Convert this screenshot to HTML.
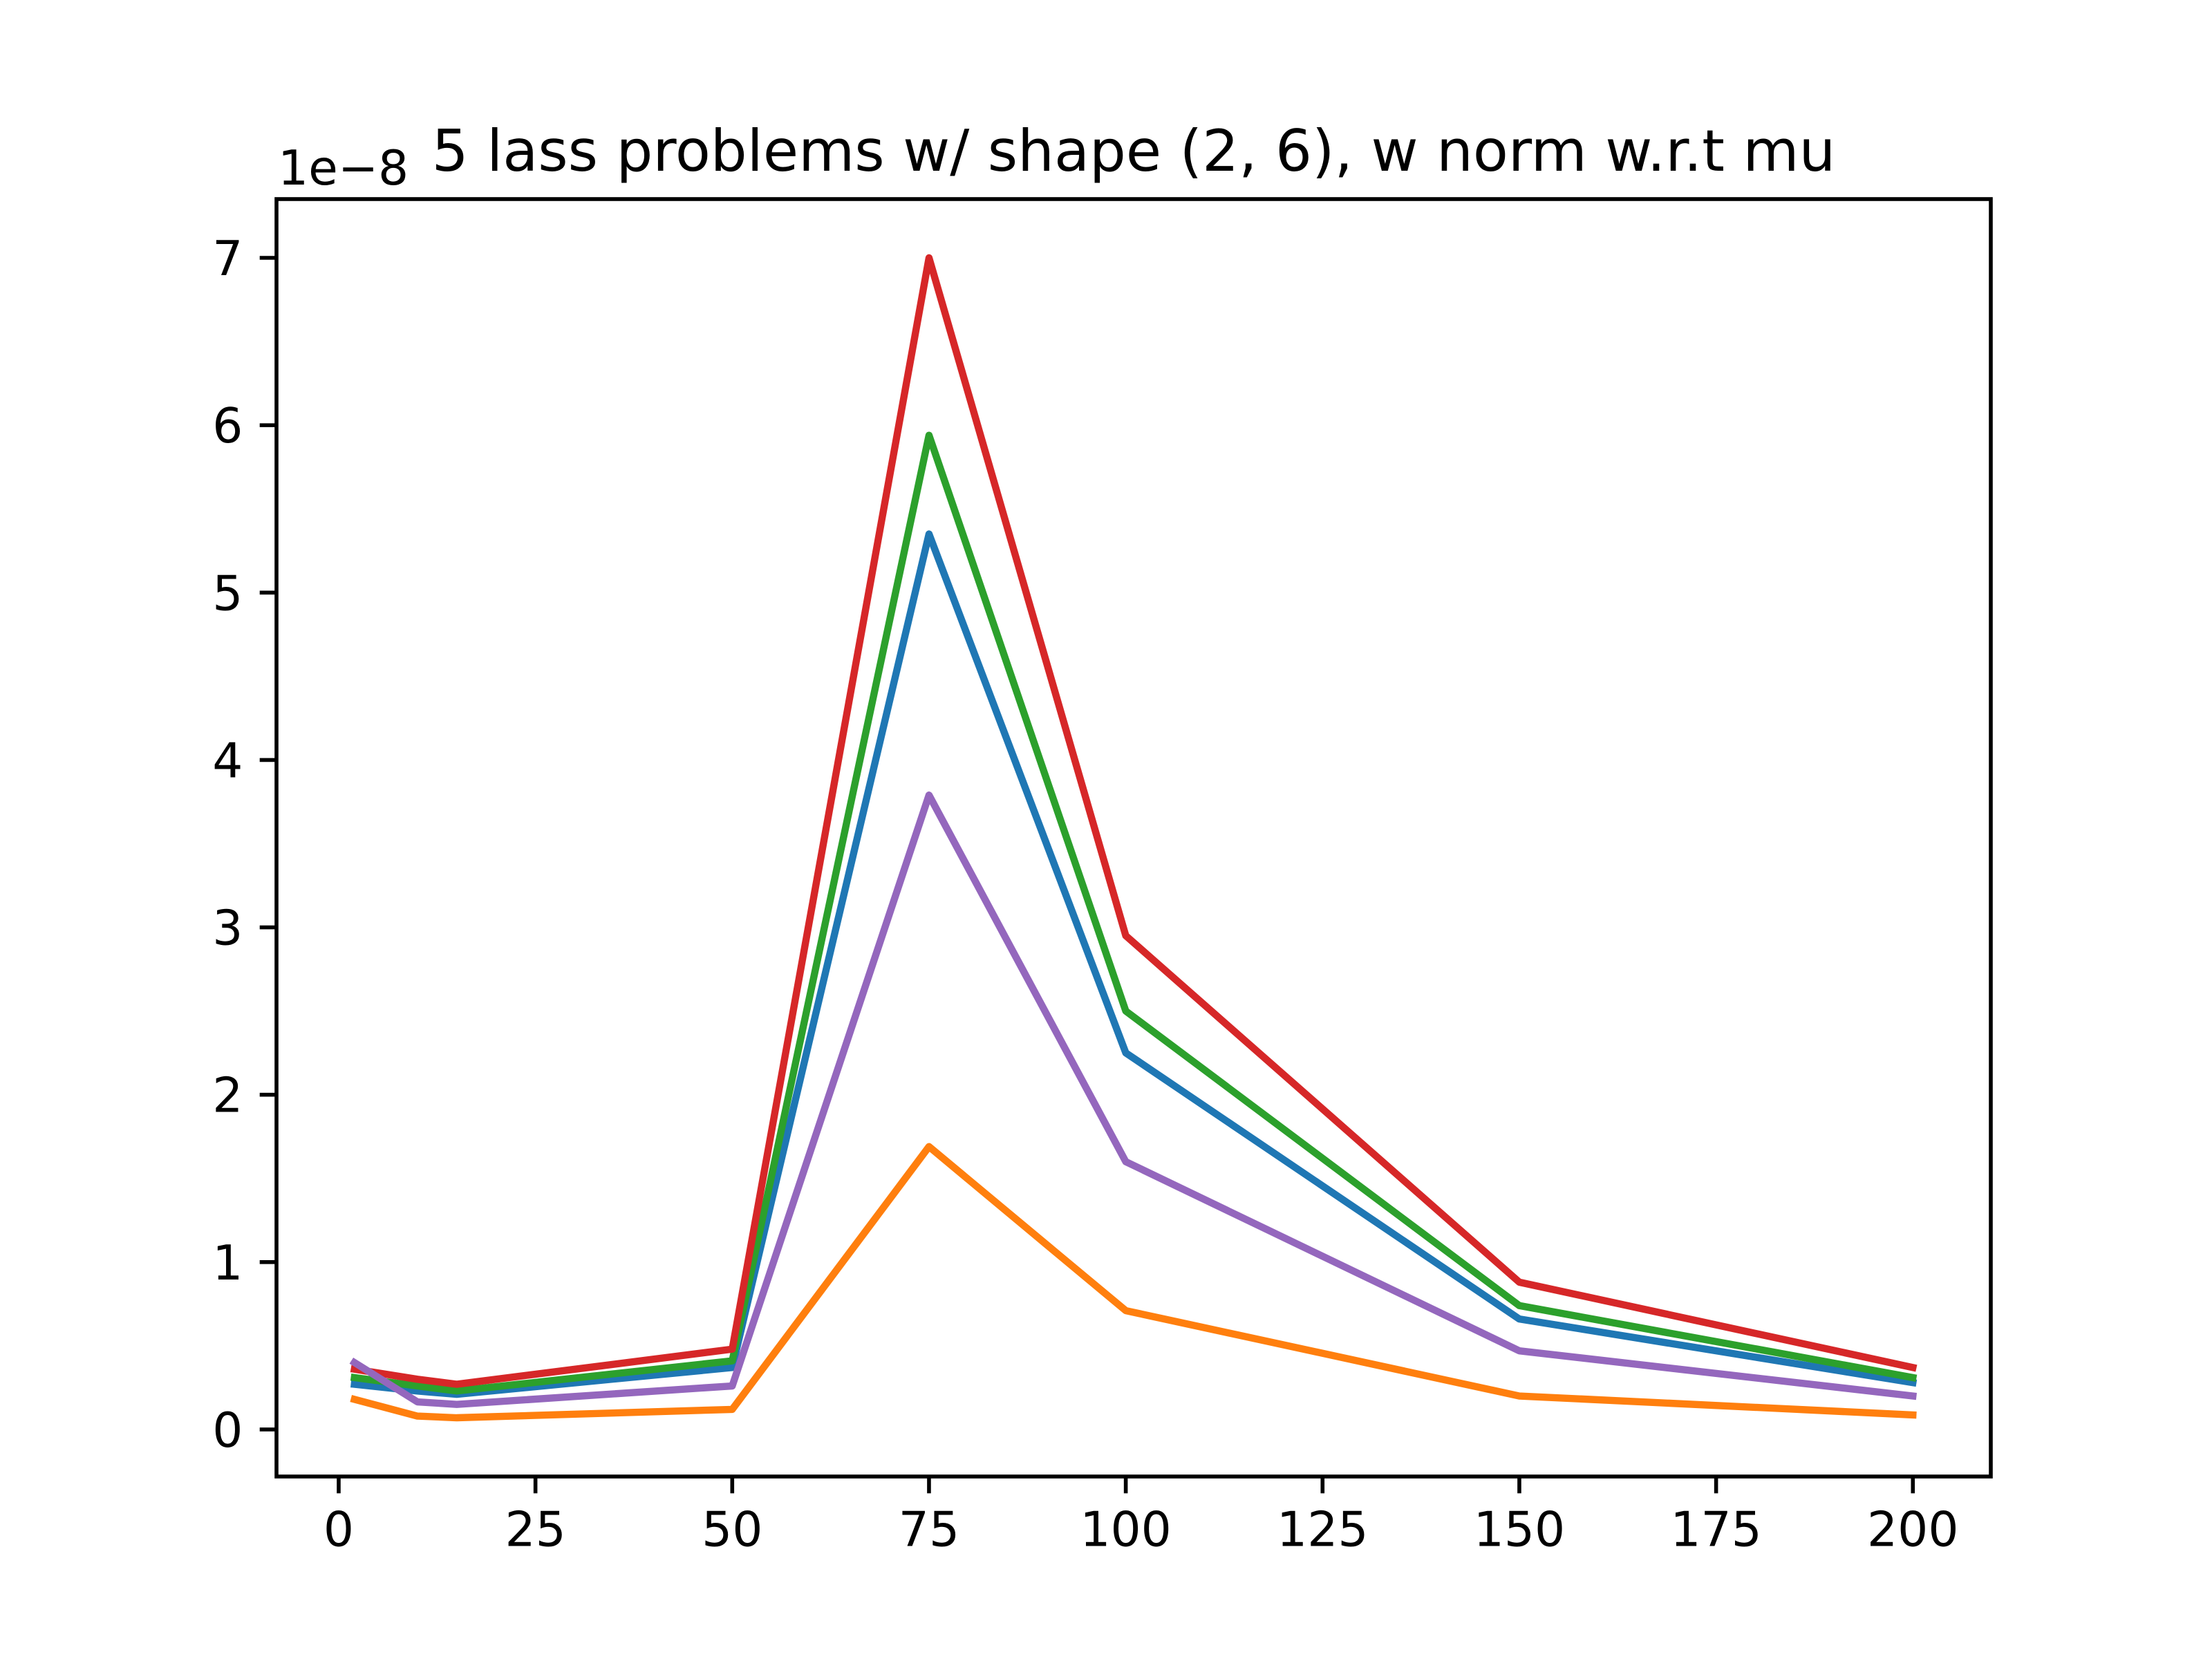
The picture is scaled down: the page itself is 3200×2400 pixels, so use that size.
<!DOCTYPE html>
<html><head><meta charset="utf-8"><style>html,body{margin:0;padding:0;background:#fff}svg{display:block}</style></head>
<body>
<svg id="chart" xmlns="http://www.w3.org/2000/svg" width="3200" height="2400" viewBox="0 0 3200 2400" font-family="'DejaVu Sans','Liberation Sans',sans-serif">
<rect width="3200" height="2400" fill="#fff"/>
<text x="1640" y="247" font-size="83.3" text-anchor="middle" fill="#000">5 lass problems w/ shape (2, 6), w norm w.r.t mu</text>
<text x="402" y="267" font-size="69.4" fill="#000">1e−8</text>
<g id="marks"></g>
<g id="axes"></g>
</svg>
<script>
const xValues = [2, 10, 15, 50, 75, 100, 150, 200];
const seriesBlue = [0.27, 0.23, 0.21, 0.37, 5.35, 2.25, 0.66, 0.28];
const seriesOrange = [0.18, 0.08, 0.07, 0.12, 1.69, 0.71, 0.20, 0.087];
const seriesGreen = [0.31, 0.26, 0.23, 0.41, 5.94, 2.50, 0.74, 0.31];
const seriesRed = [0.36, 0.30, 0.27, 0.48, 7.0, 2.95, 0.88, 0.37];
const seriesPurple = [0.40, 0.165, 0.15, 0.26, 3.79, 1.60, 0.47, 0.20];
const xTicks = [0, 25, 50, 75, 100, 125, 150, 175, 200];
const yTicks = [0, 1, 2, 3, 4, 5, 6, 7];

const L = 400, R = 2880, T = 288, B = 2136;
const xmin = -7.9, xmax = 209.9, ymin = -0.281, ymax = 7.351;
const sx = v => L + (v - xmin) / (xmax - xmin) * (R - L);
const sy = v => B - (v - ymin) / (ymax - ymin) * (B - T);
const NS = "http://www.w3.org/2000/svg";
const marks = document.getElementById('marks');
const axes = document.getElementById('axes');

const series = [
  ['series-blue', seriesBlue, '#1f77b4'],
  ['series-orange', seriesOrange, '#ff7f0e'],
  ['series-green', seriesGreen, '#2ca02c'],
  ['series-red', seriesRed, '#d62728'],
  ['series-purple', seriesPurple, '#9467bd']
];
series.forEach(([name, vals, color]) => {
  const p = document.createElementNS(NS, 'polyline');
  p.setAttribute('points', vals.map((v, i) => sx(xValues[i]) + ',' + sy(v)).join(' '));
  p.setAttribute('fill', 'none');
  p.setAttribute('stroke', color);
  p.setAttribute('stroke-width', '10.4');
  p.setAttribute('stroke-linecap', 'square');
  p.setAttribute('stroke-linejoin', 'round');
  
  
  marks.appendChild(p);
});

const frame = document.createElementNS(NS, 'rect');
frame.setAttribute('x', L); frame.setAttribute('y', T);
frame.setAttribute('width', R - L); frame.setAttribute('height', B - T);
frame.setAttribute('fill', 'none'); frame.setAttribute('stroke', '#000');
frame.setAttribute('stroke-width', '5.6');


axes.appendChild(frame);

xTicks.forEach(t => {
  const x = sx(t);
  const ln = document.createElementNS(NS, 'line');
  ln.setAttribute('x1', x); ln.setAttribute('x2', x);
  ln.setAttribute('y1', B); ln.setAttribute('y2', B + 24.3);
  ln.setAttribute('stroke', '#000'); ln.setAttribute('stroke-width', '5.6');
  
  
  axes.appendChild(ln);
  const tx = document.createElementNS(NS, 'text');
  tx.setAttribute('x', x); tx.setAttribute('y', B + 48.6 + 52);
  tx.setAttribute('font-size', '69.4'); tx.setAttribute('text-anchor', 'middle');
  tx.textContent = t;
  
  
  axes.appendChild(tx);
});
yTicks.forEach(t => {
  const y = sy(t);
  const ln = document.createElementNS(NS, 'line');
  ln.setAttribute('x1', L - 24.3); ln.setAttribute('x2', L);
  ln.setAttribute('y1', y); ln.setAttribute('y2', y);
  ln.setAttribute('stroke', '#000'); ln.setAttribute('stroke-width', '5.6');
  
  
  axes.appendChild(ln);
  const tx = document.createElementNS(NS, 'text');
  tx.setAttribute('x', L - 48.6); tx.setAttribute('y', y + 25);
  tx.setAttribute('font-size', '69.4'); tx.setAttribute('text-anchor', 'end');
  tx.textContent = t;
  
  
  axes.appendChild(tx);
});
</script>
</body></html>
